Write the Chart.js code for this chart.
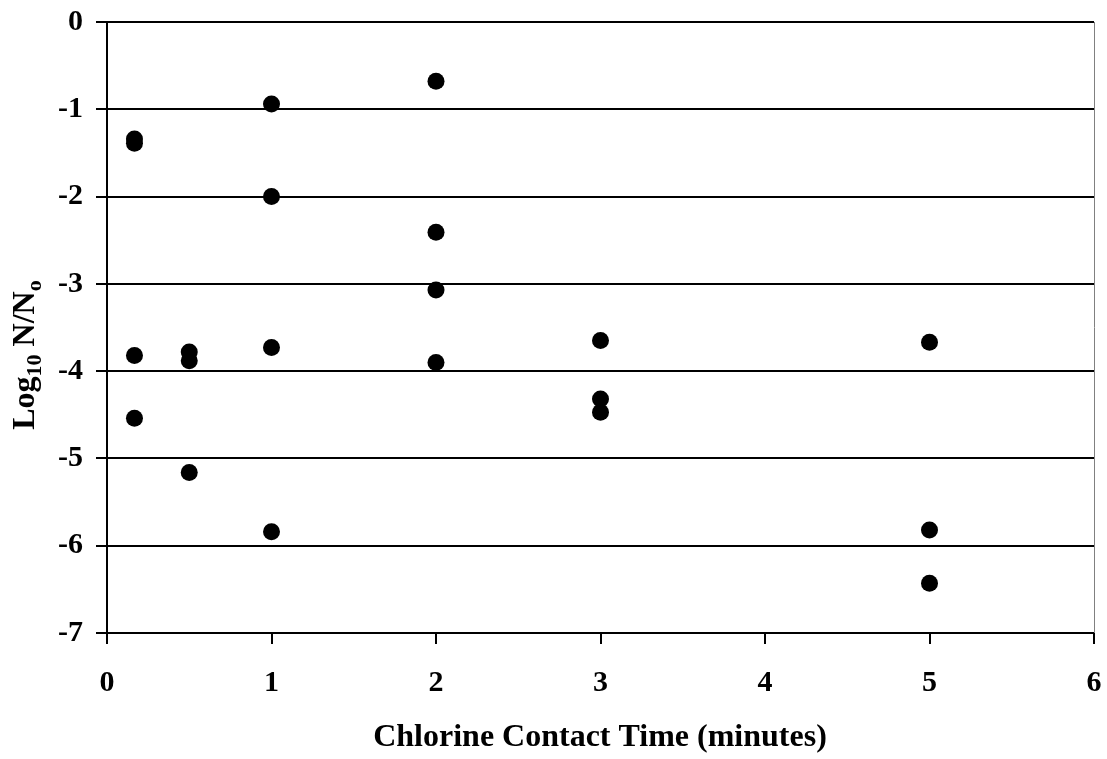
<!DOCTYPE html>
<html>
<head>
<meta charset="utf-8">
<script src="https://cdn.jsdelivr.net/npm/chart.js@4/dist/chart.umd.min.js"></script>
<style>
  html, body { margin: 0; padding: 0; background: #fff; }
  #wrap { width: 1107px; height: 759px; }
</style>
</head>
<body>
<div id="wrap"><canvas id="c" width="1107" height="759"></canvas></div>
<script>
// Contact time (minutes) and log reduction for each sample
const contactTimes = [0.167, 0.167, 0.167, 0.167, 0.5, 0.5, 0.5, 1, 1, 1, 1, 2, 2, 2, 2, 3, 3, 3, 5, 5, 5];
const logReduction = [-1.34, -1.39, -3.82, -4.54, -3.78, -3.88, -5.16, -0.94, -2.00, -3.73, -5.84, -0.68, -2.41, -3.07, -3.90, -3.65, -4.32, -4.47, -3.67, -5.82, -6.43];
const xTicks = [0, 1, 2, 3, 4, 5, 6];
const yTicks = [0, -1, -2, -3, -4, -5, -6, -7];
const xTitle = 'Chlorine Contact Time (minutes)';

const FONT = '"Liberation Serif", "Times New Roman", serif';
const TICK_SIZE = 30;

const points = contactTimes.map((t, i) => ({ x: t, y: logReduction[i] }));

// Axis titles; the y title carries subscripts
const titlesPlugin = {
  id: 'axisTitles',
  afterDraw(chart) {
    const ctx = chart.ctx;
    const area = chart.chartArea;
    ctx.save();
    ctx.fillStyle = '#000';
    ctx.textBaseline = 'alphabetic';
    ctx.textAlign = 'center';
    ctx.font = 'bold 32px ' + FONT;
    ctx.fillText(xTitle, 600, 746);

    // y title: "Log10 N/No" rotated
    const runs = [
      { t: 'Log', sub: false },
      { t: '10', sub: true },
      { t: ' N/N', sub: false },
      { t: 'o', sub: true }
    ];
    const big = 'bold 32px ' + FONT;
    const small = 'bold 22px ' + FONT;
    let total = 0;
    runs.forEach(r => { ctx.font = r.sub ? small : big; r.w = ctx.measureText(r.t).width; total += r.w; });
    ctx.translate(34, 355);
    ctx.rotate(-Math.PI / 2);
    ctx.textAlign = 'left';
    let x = -total / 2;
    runs.forEach(r => {
      ctx.font = r.sub ? small : big;
      ctx.fillText(r.t, x, r.sub ? 7 : 0);
      x += r.w;
    });
    ctx.restore();

    // thin right frame edge
    ctx.save();
    ctx.strokeStyle = '#808080';
    ctx.lineWidth = 1;
    ctx.beginPath();
    ctx.moveTo(area.right + 0.5, area.top);
    ctx.lineTo(area.right + 0.5, area.bottom);
    ctx.stroke();
    ctx.restore();
  }
};

new Chart(document.getElementById('c'), {
  type: 'scatter',
  data: {
    datasets: [{
      data: points,
      backgroundColor: '#000',
      borderColor: '#000',
      pointRadius: 8.5,
      pointHoverRadius: 8.5,
      borderWidth: 0
    }]
  },
  options: {
    responsive: false,
    animation: false,
    events: [],
    layout: { padding: { top: 22, right: 13, left: 0, bottom: 0 } },
    plugins: { legend: { display: false }, tooltip: { enabled: false } },
    scales: {
      x: {
        type: 'linear',
        min: 0, max: 6,
        afterBuildTicks(scale) { scale.ticks = xTicks.map(v => ({ value: v })); },
        afterFit(scale) {
          scale.height = 126;
          scale.paddingLeft = 0;
          scale.paddingRight = 0;
        },
        grid: { drawOnChartArea: false, drawTicks: true, tickLength: 11, color: '#000', lineWidth: 2 },
        border: { display: true, color: '#000', width: 2 },
        ticks: {
          color: '#000', padding: 21,
          font: { family: FONT, size: TICK_SIZE, weight: 'bold' },
          callback: v => String(v)
        }
      },
      y: {
        type: 'linear',
        min: -7, max: 0,
        afterBuildTicks(scale) { scale.ticks = yTicks.map(v => ({ value: v })); },
        afterFit(scale) {
          scale.width = 107;
          scale.paddingTop = 0;
          scale.paddingBottom = 0;
        },
        grid: { drawOnChartArea: true, drawTicks: true, tickLength: 11, color: '#000', lineWidth: 2 },
        border: { display: true, color: '#000', width: 2 },
        ticks: {
          color: '#000', padding: 13,
          font: { family: FONT, size: TICK_SIZE, weight: 'bold' },
          callback: v => String(v)
        }
      }
    }
  },
  plugins: [titlesPlugin]
});
</script>
</body>
</html>
